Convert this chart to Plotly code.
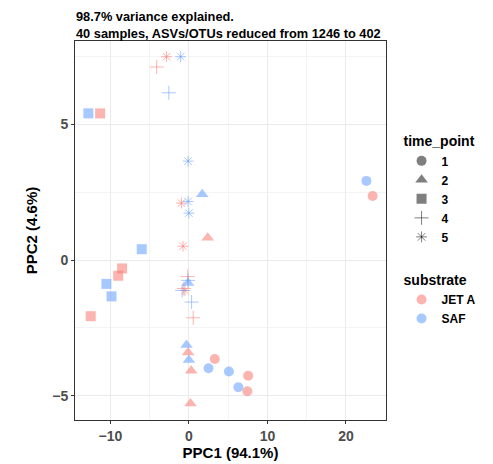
# PCA-like ordination plot (PPC1 vs PPC2)
import plotly.graph_objects as go
import pandas as pd

# sample coordinates
pc1 = [3.3, 7.55, 7.45, 23.4, 2.5, 5.1, 6.3, 22.6,
       2.4, -0.1, 0.3, 0.2, 1.7, -0.1, -0.3, 0.0,
       -11.3, -8.5, -9.0, -12.5, -12.8, -6.0, -10.5, -9.85,
       -4.1, -0.15, 0.55, -0.65, -2.55, 0.35, -0.85, -0.1,
       -2.85, -0.95, -0.75, -0.5, -1.05, -0.1, -0.1, 0.0]
pc2 = [-3.65, -4.27, -4.84, 2.36, -3.99, -4.11, -4.69, 2.92,
       0.82, -3.41, -4.08, -5.29, 2.43, -0.85, -3.13, -3.69,
       5.41, -0.31, -0.58, -2.07, 5.41, 0.40, -0.88, -1.34,
       7.12, -0.61, -2.13, -1.05, 6.17, -1.55, -1.12, -0.75,
       7.5, 2.10, 0.51, -1.12, 7.5, 3.65, 2.16, 1.73]
time_point = [1] * 8 + [2] * 8 + [3] * 8 + [4] * 8 + [5] * 8
substrate = (["JET A"] * 4 + ["SAF"] * 4) * 5

time_levels = [1, 2, 3, 4, 5]
substrate_levels = ["JET A", "SAF"]
title_lines = ["98.7% variance explained.", "40 samples, ASVs/OTUs reduced from 1246 to 402"]

df = pd.DataFrame(dict(pc1=pc1, pc2=pc2, time_point=time_point, substrate=substrate))

symbol_map = {1: "circle", 2: "triangle-up", 3: "square", 4: "cross-thin-open", 5: "asterisk-open"}
size_map = {1: 10, 2: 11, 3: 10, 4: 10, 5: 9}
color_map = {"JET A": "rgba(248,118,109,0.55)", "SAF": "rgba(97,156,255,0.55)"}
legend_gray = "rgba(0,0,0,0.5)"

fig = go.Figure()

# data points, grouped by substrate and time point
for s in substrate_levels:
    for t in time_levels:
        sub = df[(df.substrate == s) & (df.time_point == t)]
        thin = t in (4, 5)
        fig.add_trace(go.Scatter(
            x=sub.pc1, y=sub.pc2, mode="markers", showlegend=False,
            marker=dict(symbol=symbol_map[t], size=size_map[t], color=color_map[s],
                        line=dict(width=1 if thin else 0, color=color_map[s])),
        ))

# legend entries: time_point (shape)
for t in time_levels:
    thin = t in (4, 5)
    fig.add_trace(go.Scatter(
        x=[None], y=[None], mode="markers", name=str(t), legend="legend",
        marker=dict(symbol=symbol_map[t], size=size_map[t], color=legend_gray,
                    line=dict(width=1 if thin else 0, color=legend_gray)),
    ))

# legend entries: substrate (colour)
for s in substrate_levels:
    fig.add_trace(go.Scatter(
        x=[None], y=[None], mode="markers", name=s, legend="legend2",
        marker=dict(symbol="circle", size=10, color=color_map[s]),
    ))

axis_common = dict(
    showline=True, mirror=True, linecolor="#333333", linewidth=1,
    ticks="outside", ticklen=3, tickcolor="#333333", automargin=False,
    tickfont=dict(size=14, color="#4D4D4D", weight="bold"),
    showgrid=True, gridcolor="#EBEBEB", gridwidth=1, zeroline=False,
)

fig.update_layout(
    xaxis=dict(**axis_common, range=[-14.5, 25.1], tickvals=[-10, 0, 10, 20],
               ticktext=["−10", "0", "10", "20"],
               minor=dict(dtick=5, showgrid=True, gridcolor="#F4F4F4", gridwidth=0.5),
               title=dict(text="PPC1 (94.1%)", standoff=2,
                          font=dict(size=15, color="black", weight="bold"))),
    yaxis=dict(**axis_common, range=[-5.9, 8.08], tickvals=[-5, 0, 5],
               ticktext=["−5", "0", "5"],
               minor=dict(dtick=2.5, showgrid=True, gridcolor="#F4F4F4", gridwidth=0.5),
               title=dict(text="PPC2 (4.6%)", standoff=10,
                          font=dict(size=15, color="black", weight="bold"))),
    legend=dict(title=dict(text="time_point", font=dict(size=14, weight="bold", color="black")),
                font=dict(size=12, weight="bold", color="black"),
                x=1.05, xanchor="left", y=0.77, yanchor="top",
                bgcolor="rgba(0,0,0,0)"),
    legend2=dict(title=dict(text="substrate", font=dict(size=14, weight="bold", color="black")),
                 font=dict(size=12, weight="bold", color="black"),
                 x=1.05, xanchor="left", y=0.404, yanchor="top",
                 bgcolor="rgba(0,0,0,0)"),
    annotations=[dict(text="<br>".join(title_lines), xref="paper", yref="paper",
                      x=0, y=1, xanchor="left", yanchor="bottom", align="left",
                      showarrow=False, yshift=-1, borderpad=0,
                      font=dict(size=12.8, color="black", weight="bold"))],
    font=dict(family="Liberation Sans, Arial, sans-serif"),
    plot_bgcolor="white", paper_bgcolor="white",
    width=485, height=456,
    margin=dict(l=67, r=107, t=33, b=44),
)

fig.write_html("out.html")
